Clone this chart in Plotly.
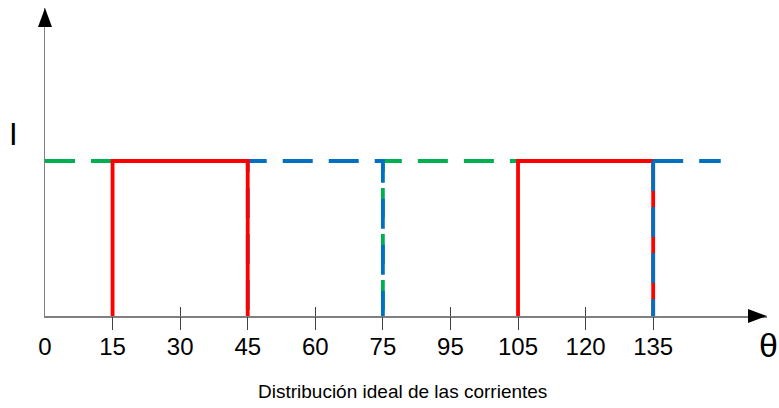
import plotly.graph_objects as go

# ---- data ----
level = 1.0
tick_vals = [0, 15, 30, 45, 60, 75, 90, 105, 120, 135]
tick_text = ["0", "15", "30", "45", "60", "75", "95", "105", "120", "135"]
mark_vals = [15, 30, 45, 60, 75, 90, 105, 120, 135]

green_a_x = [0, 15]
green_a_y = [level, level]
green_b_x = [75, 75, 105]
green_b_y = [0, level, level]

red_a_x = [15, 15, 45, 45]
red_a_y = [0, level, level, 0]
red_b_x = [105, 105, 135, 135]
red_b_y = [0, level, level, 0]

blue_a_x = [45, 45, 75, 75]
blue_a_y = [0, level, level, 0]
blue_b_x = [135, 135]
blue_b_y = [level, 0]
blue_c_x = [135, 150]
blue_c_y = [level, level]

# ---- geometry ----
W, H = 779, 408
ML, MR, MT = 45, 12, 8
PH = 308
MB = H - MT - PH
PW = W - ML - MR
XMAX = PW / 4.505
YMAX = PH / 155.0

GREEN = "#00B050"
RED = "#FF0000"
BLUE = "#0070C0"
LW = 3.8
DASH = "30px,16px"
DASH_OFF = "0px,6px,30px,10px"

fig = go.Figure()


def add_line(x, y, color, dash="solid"):
    fig.add_trace(go.Scatter(x=x, y=y, mode="lines", hoverinfo="skip",
                             line=dict(color=color, width=LW, dash=dash),
                             showlegend=False))


add_line(green_a_x, green_a_y, GREEN, DASH)
add_line(green_b_x, green_b_y, GREEN, DASH_OFF)
add_line(blue_a_x, blue_a_y, BLUE, DASH_OFF)
add_line(red_a_x, red_a_y, RED)
add_line(red_b_x, red_b_y, RED)
add_line(blue_b_x, blue_b_y, BLUE, DASH)
add_line(blue_c_x, blue_c_y, BLUE, DASH)

# helper traces to instantiate overlay axes
for ax in ("x2", "x3"):
    fig.add_trace(go.Scatter(x=[None], y=[None], xaxis=ax, yaxis="y",
                             mode="lines", showlegend=False, hoverinfo="skip"))

FONT = "Liberation Sans, Arial, sans-serif"

fig.update_layout(
    width=W, height=H,
    margin=dict(l=ML, r=MR, t=MT, b=MB, autoexpand=False),
    paper_bgcolor="white", plot_bgcolor="white",
    showlegend=False,
    font=dict(family=FONT, color="#000000"),
    xaxis=dict(range=[0, XMAX], showgrid=False, zeroline=False,
               showline=True, linecolor="#7f7f7f", linewidth=1.5,
               tickmode="array", tickvals=mark_vals, showticklabels=False,
               ticks="inside", ticklen=9, tickwidth=1, tickcolor="#404040",
               layer="below traces", fixedrange=True),
    xaxis2=dict(range=[0, XMAX], overlaying="x", anchor="y", side="bottom",
                showgrid=False, zeroline=False, showline=False,
                tickmode="array", tickvals=mark_vals, showticklabels=False,
                ticks="outside", ticklen=13, tickwidth=1, tickcolor="#404040",
                fixedrange=True),
    xaxis3=dict(range=[0, XMAX], overlaying="x", anchor="y", side="bottom",
                showgrid=False, zeroline=False, showline=False,
                tickmode="array", tickvals=tick_vals, ticktext=tick_text,
                ticks="", ticklabelstandoff=14,
                tickfont=dict(size=24, family=FONT, color="#000000"),
                fixedrange=True),
    yaxis=dict(range=[0, YMAX], showgrid=False, zeroline=False,
               showline=True, linecolor="#7f7f7f", linewidth=1.5,
               showticklabels=False, ticks="", fixedrange=True),
)

# arrowheads (paper coords from pixel sizes)
ah_len, ah_half = 19, 7
fig.add_shape(type="path", xref="paper", yref="paper",
              path=f"M 1 0 L {1 - ah_len / PW} {ah_half / PH} L {1 - ah_len / PW} {-ah_half / PH} Z",
              fillcolor="black", line=dict(width=0))
fig.add_shape(type="path", xref="paper", yref="paper",
              path=f"M 0 1 L {ah_half / PW} {1 - ah_len / PH} L {-ah_half / PW} {1 - ah_len / PH} Z",
              fillcolor="black", line=dict(width=0))


def px2paper(px, py):
    return (px - ML) / PW, (H - MB - py) / PH


def label(px, py, text, size):
    x, y = px2paper(px, py)
    fig.add_annotation(x=x, y=y, xref="paper", yref="paper", text=text,
                       showarrow=False, xanchor="center", yanchor="middle",
                       font=dict(size=size, family=FONT, color="#000000"))


label(13, 134, "I", 31)
label(768, 345, "θ", 34)
label(402, 391, "Distribución ideal de las corrientes", 19)

fig.write_html(
    "out.html",
    config={"displayModeBar": False, "staticPlot": True},
    post_script="document.body.style.margin='0px';"
                "document.documentElement.style.overflow='hidden';"
                "document.body.style.overflow='hidden';",
)
